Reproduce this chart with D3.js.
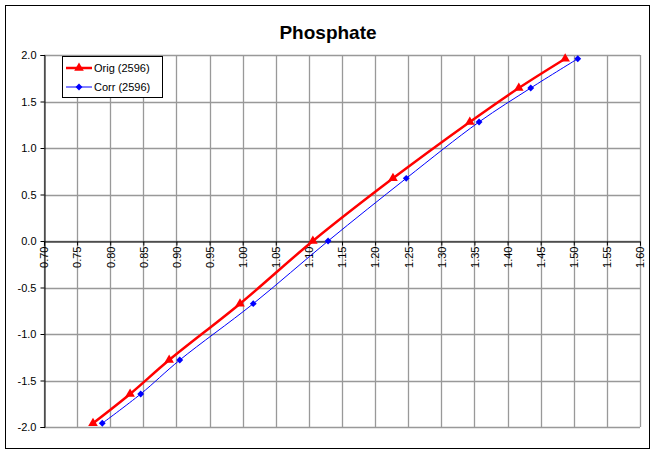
<!DOCTYPE html>
<html><head><meta charset="utf-8">
<script src="https://cdn.jsdelivr.net/npm/d3@7"></script>
<style>body{margin:0;background:#fff;}svg{display:block;font-family:"Liberation Sans",Arial,sans-serif;}</style>
</head><body>
<svg id="c" width="656" height="455"></svg>
<script>
const quantiles = [-1.96, -1.645, -1.28, -0.674, 0, 0.674, 1.28, 1.645, 1.96];
const origX = [0.774, 0.830, 0.889, 0.996, 1.106, 1.227, 1.343, 1.417, 1.487];
const corrX = [0.788, 0.846, 0.905, 1.016, 1.129, 1.247, 1.357, 1.435, 1.506];
const xTicks = [0.70,0.75,0.80,0.85,0.90,0.95,1.00,1.05,1.10,1.15,1.20,1.25,1.30,1.35,1.40,1.45,1.50,1.55,1.60];
const yTicks = [-2.0,-1.5,-1.0,-0.5,0.0,0.5,1.0,1.5,2.0];
const seriesNames = ["Orig (2596)", "Corr (2596)"];
const title = "Phosphate";

const svg = d3.select("#c");
svg.append("rect").attr("x",5.5).attr("y",5.5).attr("width",644).attr("height",443)
  .attr("fill","#fff").attr("stroke","#000").attr("stroke-width",1);

const x = d3.scaleLinear().domain([0.70,1.60]).range([44,640]);
const y = d3.scaleLinear().domain([-2,2]).range([427,55]);

svg.append("text").attr("x",328).attr("y",39).attr("text-anchor","middle")
  .attr("font-size",19).attr("font-weight","bold").text(title);

const grid = svg.append("g").attr("stroke","#999").attr("stroke-width",1.3);
xTicks.forEach(t=>{ grid.append("line").attr("x1",Math.round(x(t))+0.5).attr("x2",Math.round(x(t))+0.5).attr("y1",y(2)).attr("y2",y(-2)); });
yTicks.forEach(t=>{ grid.append("line").attr("x1",x(0.70)).attr("x2",x(1.60)).attr("y1",Math.round(y(t))+0.5).attr("y2",Math.round(y(t))+0.5); });

// y axis
const yAxis = d3.axisLeft(y).tickValues(yTicks).tickFormat(d3.format(".1f")).tickSizeOuter(0).tickSize(4).tickPadding(4);
const gy = svg.append("g").attr("transform",`translate(${Math.round(x(0.70))+0.5},0)`).call(yAxis);
gy.selectAll("text").attr("font-size",11).attr("font-family","Liberation Sans, Arial, sans-serif").attr("fill","#000");
gy.select(".domain").attr("stroke","#000");
gy.selectAll(".tick line").attr("stroke","#000");
gy.selectAll(".tick text").text(d=> d.toFixed(1));

// x axis at y=0
const xAxis = d3.axisBottom(x).tickValues(xTicks).tickFormat(d3.format(".2f")).tickSizeOuter(0).tickSize(4).tickPadding(4);
const gx = svg.append("g").attr("transform",`translate(0,${Math.round(y(0))+0.5})`).call(xAxis);
gx.select(".domain").attr("stroke","#000");
gx.selectAll(".tick line").attr("stroke","#000");
gx.selectAll(".tick text").attr("font-size",11).attr("font-family","Liberation Sans, Arial, sans-serif").attr("fill","#000")
  .attr("transform","rotate(-90)").attr("text-anchor","end").attr("x",-5).attr("y",0).attr("dy","0.35em");

const origData = quantiles.map((q,i)=>[origX[i],q]);
const corrData = quantiles.map((q,i)=>[corrX[i],q]);
const line = d3.line().x(d=>x(d[0])).y(d=>y(d[1])).curve(d3.curveCatmullRom);

svg.append("path").datum(corrData).attr("d",line).attr("fill","none").attr("stroke","#0000ff").attr("stroke-width",1);
svg.append("path").datum(origData).attr("d",line).attr("fill","none").attr("stroke","#ff0000").attr("stroke-width",2.5);

const tri = d3.symbol().type(d3.symbolTriangle).size(40);
const dia = d3.symbol().type(d3.symbolDiamond2).size(30);
svg.selectAll(".cm").data(corrData).enter().append("path").attr("d",dia)
  .attr("transform",d=>`translate(${x(d[0])},${y(d[1])})`).attr("fill","#0000ff");
svg.selectAll(".om").data(origData).enter().append("path").attr("d",tri)
  .attr("transform",d=>`translate(${x(d[0])},${y(d[1])})`).attr("fill","#ff0000");

// legend
const lg = svg.append("g");
lg.append("rect").attr("x",62.5).attr("y",56.5).attr("width",100).attr("height",41).attr("fill","#fff").attr("stroke","#000");
lg.append("line").attr("x1",66).attr("x2",92).attr("y1",68).attr("y2",68).attr("stroke","#ff0000").attr("stroke-width",2.5);
lg.append("path").attr("d",tri).attr("transform","translate(79,68)").attr("fill","#ff0000");
lg.append("text").attr("x",94).attr("y",72).attr("font-size",11).text(seriesNames[0]);
lg.append("line").attr("x1",66).attr("x2",92).attr("y1",87).attr("y2",87).attr("stroke","#0000ff").attr("stroke-width",1);
lg.append("path").attr("d",dia).attr("transform","translate(79,87)").attr("fill","#0000ff");
lg.append("text").attr("x",94).attr("y",91).attr("font-size",11).text(seriesNames[1]);
</script>
</body></html>
